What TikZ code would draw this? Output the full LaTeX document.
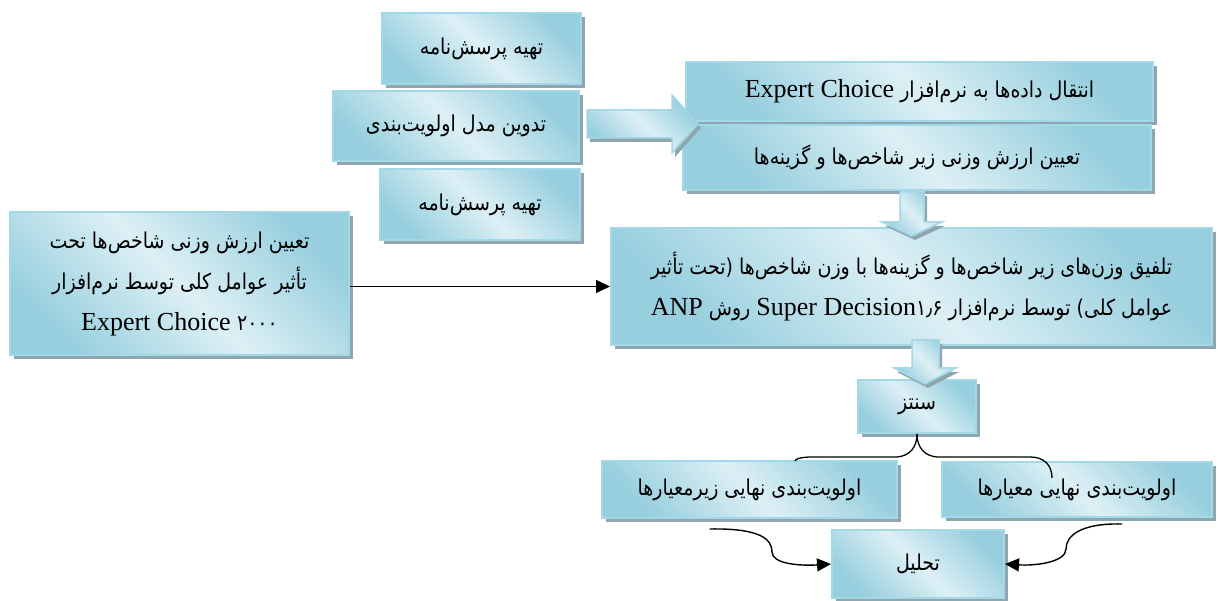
\documentclass[tikz,border=0pt]{standalone}
\usepackage{fontspec}
\setmainfont{Liberation Serif}
\newfontfamily\fa[Script=Arabic,Scale=0.84,FakeStretch=0.87]{DejaVu Sans}
\TeXXeTstate=1
\usetikzlibrary{arrows.meta,shadows,calc}

\definecolor{boxdark}{HTML}{97CFDE}
\definecolor{boxlight}{HTML}{DDF0F5}
\definecolor{boxedge}{HTML}{A2D8E7}
\definecolor{shadowc}{HTML}{8FA6AE}

% right-to-left Persian text and left-to-right Latin inserts
\newcommand{\fatext}[1]{{\fa\beginR #1\endR}}
\newcommand{\latin}[1]{\beginL{\rmfamily #1}\endL}

\begin{document}
\begin{tikzpicture}[x=1pt,y=-1pt,
  panel/.style={draw=boxedge, line width=2pt,
    top color=boxdark, bottom color=boxdark, middle color=boxlight,
    shading angle=-45, inner sep=0pt, align=center,
    font=\fontsize{26}{41}\selectfont,
    drop shadow={shadow xshift=4pt, shadow yshift=-4pt, fill=shadowc, opacity=1}},
  blockarrow/.style={draw=boxedge, line width=1.5pt,
    top color=boxdark, bottom color=boxdark, middle color=boxlight,
    shading angle=-45,
    drop shadow={shadow xshift=3pt, shadow yshift=-4pt, fill=shadowc, opacity=1}},
  link/.style={line width=1.4pt, -{Triangle[length=14pt,width=13pt]}},
  brace/.style={line width=1.3pt},
  ]
\useasboundingbox (0,0) rectangle (1218,601);

% preparation steps
\node[panel, minimum width=199pt, minimum height=71pt] (A1) at (481.5,48.5)
  {\fatext{تهیه پرسش^^^^200cنامه}};
\node[panel, minimum width=246pt, minimum height=70pt] (A2) at (456,126)
  {\fatext{تدوین مدل اولویت^^^^200cبندی}};
\node[panel, minimum width=200pt, minimum height=71pt] (A3) at (480,204.5)
  {\fatext{تهیه پرسش^^^^200cنامه}};

% weighting in Expert Choice
\node[panel, minimum width=467pt, minimum height=59pt] (B1) at (919.5,91.5)
  {\fatext{انتقال داده^^^^200cها به نرم^^^^200cافزار \latin{Expert Choice}}};
\node[panel, minimum width=468pt, minimum height=65pt] (B2) at (917,157.5)
  {\fatext{تعیین ارزش وزنی زیر شاخص^^^^200cها و گزینه^^^^200cها}};

% weights of the criteria
\node[panel, minimum width=339pt, minimum height=143pt] (G) at (179.5,283.5)
  {\fatext{تعیین ارزش وزنی شاخص^^^^200cها تحت}\\
   \fatext{تأثیر عوامل کلی توسط نرم^^^^200cافزار}\\
   Expert Choice {\fa ۲۰۰۰}};

% combination in Super Decision
\node[panel, minimum width=601pt, minimum height=117pt] (C) at (911.5,286.5)
  {\fatext{تلفیق وزن^^^^200cهای زیر شاخص^^^^200cها و گزینه^^^^200cها با وزن شاخص^^^^200cها (تحت تأثیر}\\
   \fatext{عوامل کلی) توسط نرم^^^^200cافزار \latin{Super Decision{\fa ۱٫۶}} روش \latin{ANP}}};

% synthesis and final ranking
\node[panel, minimum width=118pt, minimum height=53pt] (D) at (917,406.5)
  {\fatext{سنتز}};
\node[panel, minimum width=295pt, minimum height=57pt] (E1) at (749.5,489.5)
  {\fatext{اولویت^^^^200cبندی نهایی زیرمعیارها}};
\node[panel, minimum width=270pt, minimum height=55pt] (E2) at (1077,489.5)
  {\fatext{اولویت^^^^200cبندی نهایی معیارها}};
\node[panel, minimum width=172pt, minimum height=68pt] (F) at (918,564)
  {\fatext{تحلیل}};

% block arrows
\path[blockarrow] (587,110) -- (672,110) -- (672,95) -- (698,124) -- (672,153)
  -- (672,138) -- (587,138) -- cycle;
\path[blockarrow] (900,192) -- (924,192) -- (924,222) -- (942,222) -- (912,236)
  -- (882,222) -- (900,222) -- cycle;
\path[blockarrow] (912,340) -- (939,340) -- (939,368) -- (956,368) -- (925,384)
  -- (894,368) -- (912,368) -- cycle;

% plain connectors
\draw[link] (G.east |- C.west) -- (C.west);

\coordinate (bl) at (795,461);
\coordinate (br) at (1052,478);
\draw[brace] (D.south) .. controls ($(D.south)+(0,14)$) and ($(D.south)+(-8,22)$) .. (897,457)
  -- (812,457) .. controls (801,457) and (795,459) .. (bl);
\draw[brace] (D.south) .. controls ($(D.south)+(0,14)$) and ($(D.south)+(8,22)$) .. (937,457)
  -- (1030,457) .. controls (1044,457) and (1052,465) .. (br);

\coordinate (ls) at ($(E1.south)+(-40,10)$);
\coordinate (rs) at ($(E2.south)+(45,6)$);
\draw[link] (ls) .. controls (762,528) and (772,540) .. (772,552)
  .. controls (772,564) and (800,566) .. (F.west);
\draw[link] (rs) .. controls (1082,523) and (1066,535) .. (1066,549)
  .. controls (1066,562) and (1036,566) .. (F.east);
\end{tikzpicture}
\end{document}
